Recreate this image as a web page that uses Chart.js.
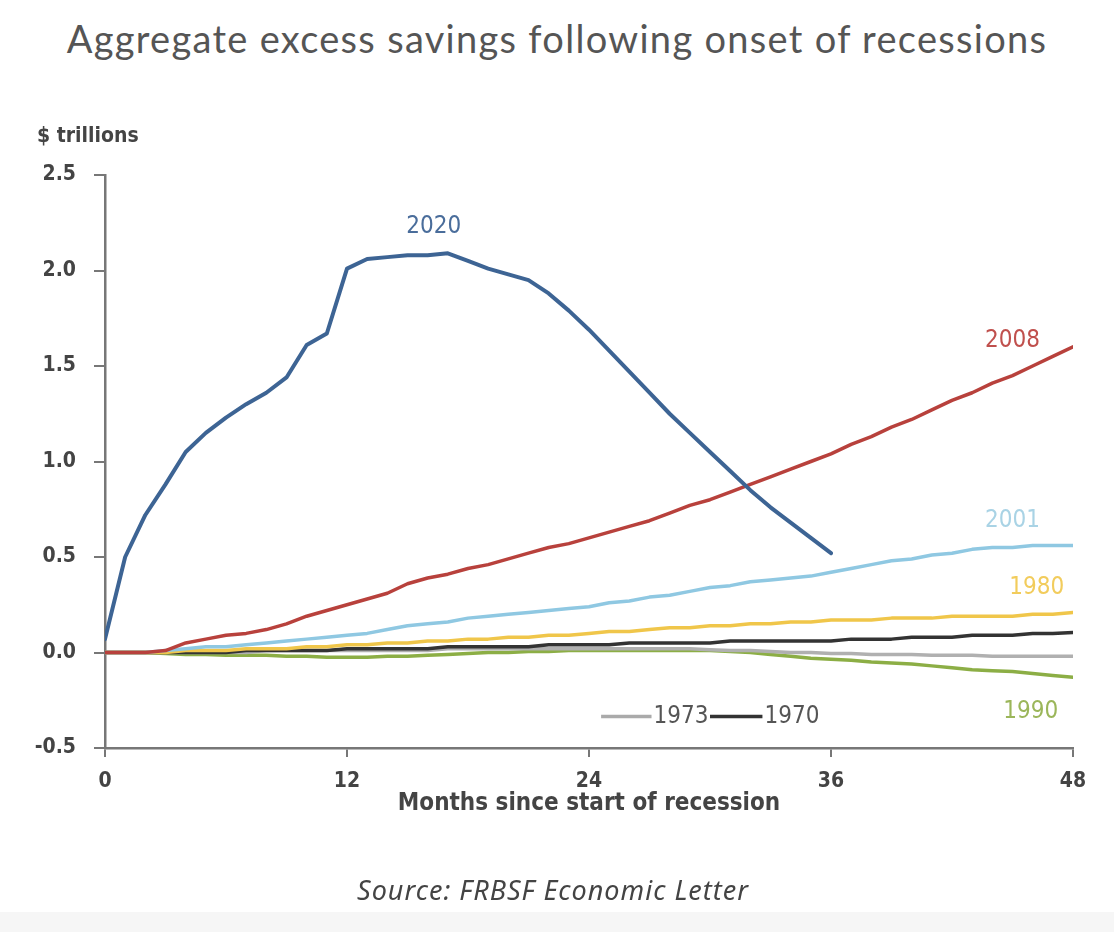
<!DOCTYPE html>
<html>
<head>
<meta charset="utf-8">
<script src="https://cdn.jsdelivr.net/npm/chart.js@4"></script>
<style>
  html, body { margin: 0; padding: 0; }
  body {
    width: 1114px; height: 932px; position: relative; overflow: hidden;
    background: linear-gradient(to bottom, #ffffff 912px, #f6f6f6 912px);
  }
  #title {
    position: absolute; left: 0; top: 16px; width: 1114px;
    text-align: center; font-family: Lato, "Noto Sans", sans-serif;
    font-size: 38px; letter-spacing: 1.3px; line-height: 44px; color: #555;
  }
  #source {
    position: absolute; left: 0; top: 873px; width: 1106px;
    text-align: center; font-family: "Noto Sans", sans-serif; font-style: italic;
    font-size: 27px; letter-spacing: 1px; line-height: 34px; color: #444;
  }
  canvas { position: absolute; left: 0; top: 0; }
</style>
</head>
<body>
<div id="title">Aggregate excess savings following onset of recessions</div>
<canvas id="chart" width="1114" height="932"></canvas>
<div id="source">Source: FRBSF Economic Letter</div>
<script>
// months since start of recession (0..48)
const months = [];
for (let m = 0; m <= 48; m++) months.push(m);

const yTicks = [-0.5, 0.0, 0.5, 1.0, 1.5, 2.0, 2.5];
const xTicks = [0, 12, 24, 36, 48];

// $ trillions, one value per month
const s2020 = [0.07, 0.50, 0.72, 0.88, 1.05, 1.15, 1.23, 1.30, 1.36, 1.44, 1.61, 1.67,
  2.01, 2.06, 2.07, 2.08, 2.08, 2.09, 2.05, 2.01, 1.98, 1.95, 1.88, 1.79,
  1.69, 1.58, 1.47, 1.36, 1.25, 1.15, 1.05, 0.95, 0.85, 0.76, 0.68, 0.60, 0.52];
const s2008 = [0, 0, 0, 0.01, 0.05, 0.07, 0.09, 0.10, 0.12, 0.15, 0.19, 0.22,
  0.25, 0.28, 0.31, 0.36, 0.39, 0.41, 0.44, 0.46, 0.49, 0.52, 0.55, 0.57,
  0.60, 0.63, 0.66, 0.69, 0.73, 0.77, 0.80, 0.84, 0.88, 0.92, 0.96, 1.00,
  1.04, 1.09, 1.13, 1.18, 1.22, 1.27, 1.32, 1.36, 1.41, 1.45, 1.50, 1.55, 1.60];
const s2001 = [0, 0, 0, 0.01, 0.02, 0.03, 0.03, 0.04, 0.05, 0.06, 0.07, 0.08,
  0.09, 0.10, 0.12, 0.14, 0.15, 0.16, 0.18, 0.19, 0.20, 0.21, 0.22, 0.23,
  0.24, 0.26, 0.27, 0.29, 0.30, 0.32, 0.34, 0.35, 0.37, 0.38, 0.39, 0.40,
  0.42, 0.44, 0.46, 0.48, 0.49, 0.51, 0.52, 0.54, 0.55, 0.55, 0.56, 0.56, 0.56];
const s1980 = [0, 0, 0, 0, 0.01, 0.01, 0.01, 0.02, 0.02, 0.02, 0.03, 0.03,
  0.04, 0.04, 0.05, 0.05, 0.06, 0.06, 0.07, 0.07, 0.08, 0.08, 0.09, 0.09,
  0.10, 0.11, 0.11, 0.12, 0.13, 0.13, 0.14, 0.14, 0.15, 0.15, 0.16, 0.16,
  0.17, 0.17, 0.17, 0.18, 0.18, 0.18, 0.19, 0.19, 0.19, 0.19, 0.20, 0.20, 0.21];
const s1970 = [0, 0, 0, 0, 0, 0, 0, 0.01, 0.01, 0.01, 0.01, 0.01,
  0.02, 0.02, 0.02, 0.02, 0.02, 0.03, 0.03, 0.03, 0.03, 0.03, 0.04, 0.04,
  0.04, 0.04, 0.05, 0.05, 0.05, 0.05, 0.05, 0.06, 0.06, 0.06, 0.06, 0.06,
  0.06, 0.07, 0.07, 0.07, 0.08, 0.08, 0.08, 0.09, 0.09, 0.09, 0.10, 0.10, 0.105];
const s1973 = [0, 0, 0, 0, 0, 0, 0, 0, 0.01, 0.01, 0.01, 0.01,
  0.01, 0.01, 0.01, 0.01, 0.01, 0.02, 0.02, 0.02, 0.02, 0.02, 0.02, 0.02,
  0.02, 0.02, 0.02, 0.02, 0.02, 0.02, 0.015, 0.01, 0.01, 0.005, 0, 0,
  -0.005, -0.005, -0.01, -0.01, -0.01, -0.015, -0.015, -0.015, -0.02, -0.02, -0.02, -0.02, -0.02];
const s1990 = [0, 0, 0, -0.005, -0.01, -0.01, -0.015, -0.015, -0.015, -0.02, -0.02, -0.025,
  -0.025, -0.025, -0.02, -0.02, -0.015, -0.01, -0.005, 0, 0, 0.005, 0.005, 0.01,
  0.01, 0.01, 0.01, 0.01, 0.01, 0.01, 0.01, 0.005, 0, -0.01, -0.02, -0.03,
  -0.035, -0.04, -0.05, -0.055, -0.06, -0.07, -0.08, -0.09, -0.095, -0.10, -0.11, -0.12, -0.13];

const toPoints = vals => vals.map((v, i) => ({ x: months[i], y: v }));

const condensed = '"DejaVu Sans Condensed", Roboto, sans-serif';

// series labels, placed in data coordinates
const seriesLabels = [
  { text: '2020', x: 16.3, y: 2.23, color: '#4a6d9b' },
  { text: '2008', x: 45.0, y: 1.63, color: '#c0504d' },
  { text: '2001', x: 45.0, y: 0.69, color: '#a9d3e5' },
  { text: '1980', x: 46.2, y: 0.34, color: '#f2cc5c' },
  { text: '1990', x: 45.9, y: -0.31, color: '#9bb65a' }
];

const labelPlugin = {
  id: 'labels',
  afterDatasetsDraw(chart) {
    const { ctx, scales: { x, y }, chartArea } = chart;
    ctx.save();
    ctx.textBaseline = 'middle';
    ctx.textAlign = 'center';
    ctx.font = '24px ' + condensed;
    seriesLabels.forEach(l => {
      ctx.fillStyle = l.color;
      ctx.fillText(l.text, x.getPixelForValue(l.x), y.getPixelForValue(l.y));
    });

    // small key for 1973 / 1970
    const ky = y.getPixelForValue(-0.335);
    ctx.lineWidth = 3.5;
    ctx.strokeStyle = '#aaaaaa';
    ctx.beginPath();
    ctx.moveTo(x.getPixelForValue(24.6), ky);
    ctx.lineTo(x.getPixelForValue(27.1), ky);
    ctx.stroke();
    ctx.strokeStyle = '#333333';
    ctx.beginPath();
    ctx.moveTo(x.getPixelForValue(30.0), ky);
    ctx.lineTo(x.getPixelForValue(32.6), ky);
    ctx.stroke();
    ctx.fillStyle = '#555';
    ctx.textAlign = 'left';
    ctx.fillText('1973', x.getPixelForValue(27.2), ky);
    ctx.fillText('1970', x.getPixelForValue(32.7), ky);

    // unit label above the y axis
    ctx.font = 'bold 21px ' + condensed;
    ctx.fillStyle = '#444';
    ctx.fillText('$ trillions', chartArea.left - 68, chartArea.top - 38);
    ctx.restore();
  }
};

const ctx = document.getElementById('chart').getContext('2d');

new Chart(ctx, {
  type: 'line',
  data: {
    datasets: [
      { label: '2020', data: toPoints(s2020), borderColor: '#3d6494', borderWidth: 4 },
      { label: '2008', data: toPoints(s2008), borderColor: '#b8413c', borderWidth: 3.5 },
      { label: '2001', data: toPoints(s2001), borderColor: '#8fc8e2', borderWidth: 3.5 },
      { label: '1980', data: toPoints(s1980), borderColor: '#f0c64a', borderWidth: 3.5 },
      { label: '1970', data: toPoints(s1970), borderColor: '#333333', borderWidth: 3.5 },
      { label: '1973', data: toPoints(s1973), borderColor: '#b0b0b0', borderWidth: 3.5 },
      { label: '1990', data: toPoints(s1990), borderColor: '#8cae45', borderWidth: 3.5 }
    ]
  },
  options: {
    responsive: false,
    animation: false,
    elements: {
      point: { radius: 0 },
      line: { tension: 0, borderJoinStyle: 'round', borderCapStyle: 'round' }
    },
    layout: { padding: { top: 175, left: 0, right: 41, bottom: 114 } },
    scales: {
      x: {
        type: 'linear',
        min: 0,
        max: 48,
        afterBuildTicks: scale => { scale.ticks = xTicks.map(v => ({ value: v })); },
        afterFit: scale => { scale.height = 70; },
        grid: { display: true, drawOnChartArea: false, drawTicks: true, tickLength: 9, color: '#777', lineWidth: 2 },
        border: { display: true, color: '#777', width: 2.5 },
        ticks: {
          color: '#444',
          padding: 12,
          maxRotation: 0,
          font: { family: condensed, size: 21, weight: 'bold' }
        },
        title: {
          display: true,
          text: 'Months since start of recession',
          color: '#444',
          padding: 0,
          font: { family: condensed, size: 24, weight: 'bold' }
        }
      },
      y: {
        min: -0.5,
        max: 2.5,
        afterBuildTicks: scale => { scale.ticks = yTicks.map(v => ({ value: v })); },
        afterFit: scale => { scale.width = 105; },
        grid: { display: true, drawOnChartArea: false, drawTicks: true, tickLength: 11, color: '#777', lineWidth: 2 },
        border: { display: true, color: '#777', width: 2.5 },
        ticks: {
          color: '#444',
          padding: 18,
          font: { family: condensed, size: 21, weight: 'bold' },
          callback: v => v.toFixed(1)
        }
      }
    },
    plugins: {
      legend: { display: false },
      tooltip: { enabled: false }
    }
  },
  plugins: [labelPlugin]
});
</script>
</body>
</html>
